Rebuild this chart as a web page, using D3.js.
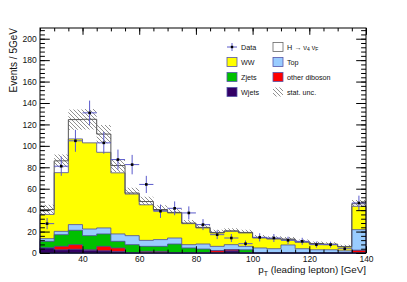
<!DOCTYPE html>
<html>
<head>
<meta charset="utf-8">
<script src="https://cdn.jsdelivr.net/npm/d3@7"></script>
<style>
  body { margin: 0; background: #fff; }
  text { font-family: "Liberation Sans", Arial, sans-serif; fill: #111; }
</style>
</head>
<body>
<div id="chart"></div>
<script>
// bins of 5 GeV, last one holds the overflow
const binLow = [25, 30, 35, 40, 45, 50, 55, 60, 65, 70, 75, 80, 85, 90, 95, 100, 105, 110, 115, 120, 125, 130, 135]
const binWidth = 5

const wjets   = [4.7, 3.0, 3.5, 2.5, 2.0, 1.5, 0, 0, 0, 0, 0, 0, 0, 2.0, 0, 0, 0, 0, 0, 0, 0, 0, 0]
const diboson = [0, 3.2, 4.3, 0.5, 4.2, 3.2, 0, 1.5, 1.5, 0, 0, 0, 2.2, 1.2, 0, 0, 0, 0, 0, 0, 0, 0, 2.5]
const zjets   = [6.2, 10.9, 13.4, 13.2, 11.6, 6.2, 7.8, 4.7, 4.7, 8.4, 4.7, 3.7, 0, 0, 3.0, 0, 0, 0, 0, 0, 0, 0, 0]
const topq    = [2.5, 3.1, 5.3, 6.2, 5.6, 6.9, 8.4, 5.6, 6.3, 5.6, 3.1, 4.7, 4.0, 4.6, 3.2, 4.7, 4.0, 7.5, 4.0, 3.0, 3.0, 2.0, 19.3]
const ww      = [22.6, 54.8, 80.0, 80.4, 70.6, 57.0, 38.8, 33.2, 27.1, 23.4, 19.6, 15.0, 12.5, 12.4, 12.5, 9.3, 9.0, 5.0, 6.0, 5.4, 4.8, 3.6, 21.8]
const higgs   = [4.5, 11.0, 18.0, 22.0, 17.0, 6.8, 1.0, 3.0, 1.0, 0.5, 0.5, 0.5, 0.5, 0.5, 0.5, 0.5, 0.5, 0.5, 0.5, 0.5, 0.5, 0.5, 2.4]
const statUnc = [4.5, 6, 9.5, 9.5, 8.5, 6, 5, 4.5, 4, 3.5, 3, 2.8, 2.5, 2.5, 2.5, 2.2, 2.2, 2, 2, 1.8, 1.8, 1.5, 3.5]
const dataCounts = [27.4, 81, 104.7, 130.8, 102.8, 87.2, 82.5, 64, 39, 41.7, 37.4, 26.5, 17.1, 14, 8.7, 14.6, 14, 11.8, 10.9, 7.8, 7.8, 4, 46.7]

const xTicks = [40, 60, 80, 100, 120, 140]
const yTicks = [0, 20, 40, 60, 80, 100, 120, 140, 160, 180, 200]

const dms = { width: 407, height: 282, left: 40, right: 366, top: 28, bottom: 253 }

const svg = d3.select('#chart').append('svg')
    .attr('width', dms.width)
    .attr('height', dms.height)

const x = d3.scaleLinear().domain([25, 140]).range([dms.left, dms.right])
const y = d3.scaleLinear().domain([0, 210]).range([dms.bottom, dms.top])

const defs = svg.append('defs')
defs.append('pattern')
    .attr('id', 'hatch')
    .attr('patternUnits', 'userSpaceOnUse')
    .attr('width', 4).attr('height', 4)
  .append('path')
    .attr('d', 'M0,0L4,4M-1,3L1,5M3,-1L5,1')
    .attr('stroke', '#444')
    .attr('stroke-width', 0.6)

// stack: bottom to top
const keys = ['wjets', 'diboson', 'zjets', 'topq', 'ww', 'higgs']
const rows = binLow.map((lo, i) => ({
    lo, wjets: wjets[i], diboson: diboson[i], zjets: zjets[i],
    topq: topq[i], ww: ww[i], higgs: higgs[i]
}))
const series = d3.stack().keys(keys)(rows)

const fills = {
    wjets: '#330066', diboson: '#ff0000', zjets: '#00c000',
    topq: '#99ccff', ww: '#ffff00', higgs: 'none'
}

// turn per-bin values into step points
function steps(vals) {
    const pts = []
    binLow.forEach((lo, i) => {
        pts.push([lo, vals[i]])
        pts.push([lo + binWidth, vals[i]])
    })
    return pts
}

const totals = series[series.length - 1].map(d => d[1])

const band = d3.area()
    .x(d => x(d[0]))
    .y0(d => y(d[1]))
    .y1(d => y(d[2]))

const bandPts = []
binLow.forEach((lo, i) => {
    bandPts.push([lo, totals[i] - statUnc[i], totals[i] + statUnc[i]])
    bandPts.push([lo + binWidth, totals[i] - statUnc[i], totals[i] + statUnc[i]])
})

const plot = svg.append('g')

plot.append('path')
    .attr('d', band(bandPts))
    .attr('fill', 'url(#hatch)')

const filled = d3.area()
    .x(d => x(d[0]))
    .y0(y(0))
    .y1(d => y(d[1]))

// draw cumulative histograms from the largest down, like THStack
for (let k = keys.length - 2; k >= 0; k--) {
    const tops = series[k].map(d => d[1])
    plot.append('path')
        .attr('d', filled(steps(tops)))
        .attr('fill', fills[keys[k]])
        .attr('stroke', '#4d4d99')
        .attr('stroke-width', 0.8)
}

// signal: hollow, on top of everything
const line = d3.line().x(d => x(d[0])).y(d => y(d[1]))
plot.append('path')
    .attr('d', line(steps(totals)))
    .attr('fill', 'none')
    .attr('stroke', '#555')
    .attr('stroke-width', 1)

// data points
const pts = plot.append('g')
const errColor = '#5a5acc'
binLow.forEach((lo, i) => {
    const c = lo + binWidth / 2
    const v = dataCounts[i]
    const e = Math.sqrt(v)
    pts.append('line')
        .attr('x1', x(lo)).attr('x2', x(lo + binWidth))
        .attr('y1', y(v)).attr('y2', y(v))
        .attr('stroke', errColor).attr('stroke-width', 1)
    pts.append('line')
        .attr('x1', x(c)).attr('x2', x(c))
        .attr('y1', y(v - e)).attr('y2', y(v + e))
        .attr('stroke', errColor).attr('stroke-width', 1)
    pts.append('rect')
        .attr('x', x(c) - 1.3).attr('y', y(v) - 1.3)
        .attr('width', 2.6).attr('height', 2.6)
        .attr('fill', '#000')
})

// axes, ROOT style: ticks inside, on all four sides
const yMinor = d3.range(0, 210, 4)
const xMinor = d3.range(25, 141, 5)

function axis(gen, tx, ty) {
    const g = svg.append('g').attr('transform', `translate(${tx},${ty})`).call(gen)
    g.select('.domain').remove()
    g.selectAll('.tick line').attr('stroke', '#000')
    return g
}

axis(d3.axisLeft(y).tickValues(yMinor).tickSize(-4.9).tickFormat(''), dms.left, 0)
axis(d3.axisRight(y).tickValues(yMinor).tickSize(-4.9).tickFormat(''), dms.right, 0)
axis(d3.axisRight(y).tickValues(yTicks).tickSize(-9.8).tickFormat(''), dms.right, 0)
axis(d3.axisLeft(y).tickValues(yTicks).tickSize(-9.8).tickPadding(3.3), dms.left, 0)
    .selectAll('text').style('font-size', '8.5px')

axis(d3.axisTop(x).tickValues(xMinor).tickSize(-3.4).tickFormat(''), 0, dms.top)
axis(d3.axisTop(x).tickValues(xTicks).tickSize(-6.8).tickFormat(''), 0, dms.top)
axis(d3.axisBottom(x).tickValues(xMinor).tickSize(-3.4).tickFormat(''), 0, dms.bottom)
axis(d3.axisBottom(x).tickValues(xTicks).tickSize(-6.8).tickPadding(3.2), 0, dms.bottom)
    .selectAll('text').style('font-size', '8.5px')

svg.append('rect')
    .attr('x', dms.left).attr('y', dms.top)
    .attr('width', dms.right - dms.left).attr('height', dms.bottom - dms.top)
    .attr('fill', 'none').attr('stroke', '#000').attr('stroke-width', 1)

// titles
const xt = svg.append('text')
    .attr('x', dms.right).attr('y', 273)
    .attr('text-anchor', 'end')
    .style('font-size', '9.8px')
xt.append('tspan').text('p')
xt.append('tspan').attr('dy', 2.5).style('font-size', '7px').text('T')
xt.append('tspan').attr('dy', -2.5).text(' (leading lepton) [GeV]')

svg.append('text')
    .attr('transform', `translate(17,${dms.top}) rotate(-90)`)
    .attr('text-anchor', 'end')
    .style('font-size', '10px')
    .text('Events / 5GeV')

// legend
const legendLeft = ['Data', 'WW', 'Zjets', 'Wjets']
const legendRight = ['H', 'Top', 'other diboson', 'stat. unc.']
const leftKeys = ['data', 'ww', 'zjets', 'wjets']
const rightKeys = ['higgs', 'topq', 'diboson', 'unc']

const legend = svg.append('g')
const rowY = [47, 62, 77, 92]
function legendEntry(key, label, bx, ry) {
    const g = legend.append('g')
    if (key === 'data') {
        g.append('line').attr('x1', bx).attr('x2', bx + 10).attr('y1', ry).attr('y2', ry)
            .attr('stroke', errColor)
        g.append('line').attr('x1', bx + 5).attr('x2', bx + 5).attr('y1', ry - 4).attr('y2', ry + 4)
            .attr('stroke', errColor)
        g.append('rect').attr('x', bx + 3.8).attr('y', ry - 1.2).attr('width', 2.4).attr('height', 2.4)
            .attr('fill', '#000')
    } else if (key === 'unc') {
        g.append('rect').attr('x', bx).attr('y', ry - 4.5).attr('width', 10).attr('height', 9)
            .attr('fill', 'url(#hatch)')
    } else {
        g.append('rect').attr('x', bx).attr('y', ry - 4.5).attr('width', 10).attr('height', 9)
            .attr('fill', key === 'higgs' ? '#fff' : fills[key])
            .attr('stroke', key === 'higgs' ? '#666' : '#5555aa')
            .attr('stroke-width', 0.8)
    }
    const t = g.append('text').attr('x', bx + 14).attr('y', ry + 2.5).style('font-size', '7.2px')
    if (key === 'higgs') {
        t.append('tspan').text('H \u2192 \u03bd')
        t.append('tspan').attr('dy', 1.8).style('font-size', '5px').text('4')
        t.append('tspan').attr('dy', -1.8).text(' \u03bd')
        t.append('tspan').attr('dy', 1.8).style('font-size', '5px').text('F')
    } else {
        t.text(label)
    }
}
legendLeft.forEach((l, i) => legendEntry(leftKeys[i], l, 227, rowY[i]))
legendRight.forEach((l, i) => legendEntry(rightKeys[i], l, 273, rowY[i]))
</script>
</body>
</html>
